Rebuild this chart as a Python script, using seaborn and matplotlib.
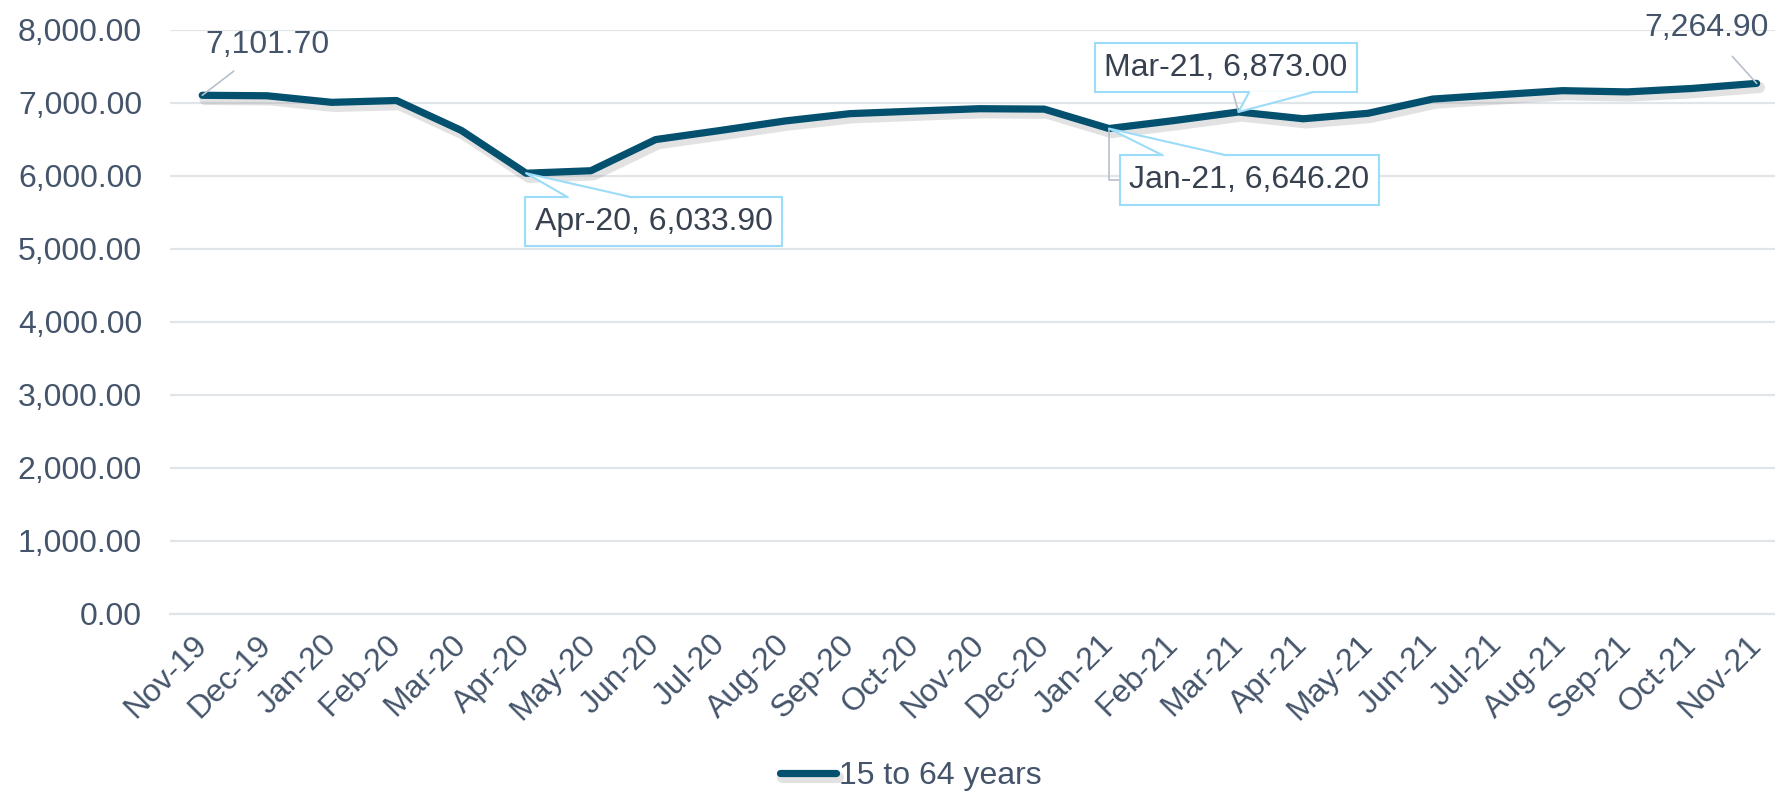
import matplotlib
matplotlib.use("Agg")
import matplotlib.pyplot as plt
import matplotlib.patheffects as pe
from matplotlib.patches import Polygon
from matplotlib.lines import Line2D
import numpy as np
import pandas as pd
import seaborn as sns

months = ["Nov-19", "Dec-19", "Jan-20", "Feb-20", "Mar-20", "Apr-20", "May-20",
          "Jun-20", "Jul-20", "Aug-20", "Sep-20", "Oct-20", "Nov-20", "Dec-20",
          "Jan-21", "Feb-21", "Mar-21", "Apr-21", "May-21", "Jun-21", "Jul-21",
          "Aug-21", "Sep-21", "Oct-21", "Nov-21"]
employed = [7101.7, 7095, 7005, 7030, 6620, 6033.9, 6068,
            6495, 6620, 6750, 6850, 6885, 6918, 6912,
            6646.2, 6755, 6873.0, 6780, 6855, 7050, 7108,
            7165, 7148, 7195, 7264.9]
series_name = "15 to 64 years"

LINE = "#03506F"
TEXT = "#44546A"
DARK = "#38414F"
GRID = "#E1E4E9"
CALLOUT = "#9BDCF8"
LEADER = "#B7C0CC"
FS = 23


def start():
    df = pd.DataFrame({"pos": np.arange(len(months)), "value": employed})

    sns.set_style("white")
    plt.rcParams["font.family"] = ["Liberation Sans", "DejaVu Sans"]

    fig = plt.figure(figsize=(17.75, 7.92), dpi=100)
    ax = fig.add_axes([0.0957, 0.2251, 0.9122, 0.7374])

    sns.lineplot(
        data=df, x="pos", y="value", ax=ax, color=LINE, linewidth=5.2,
        label=series_name, solid_capstyle="round", solid_joinstyle="round",
        legend=False, zorder=3,
    )
    ax.lines[0].set_path_effects([
        pe.SimpleLineShadow(offset=(2, -3), shadow_color="#7f7f7f", alpha=0.22, linewidth=8),
        pe.Normal(),
    ])

    ax.set_xlim(-0.5, len(months) - 0.5)
    ax.set_ylim(0, 8000)
    ax.set_yticks(np.arange(0, 8001, 1000))
    ax.set_yticklabels([f"{v:,.2f}" for v in np.arange(0, 8001, 1000)])
    ax.set_xticks(df["pos"])
    ax.set_xticklabels(months, rotation=45, ha="right", va="center", rotation_mode="anchor")
    ax.set_xticks(np.arange(-0.5, len(months), 1), minor=True)

    ax.grid(axis="y", color=GRID, linewidth=1.6)
    ax.grid(axis="x", visible=False)
    ax.set_axisbelow(True)
    for s in ["top", "right", "left"]:
        ax.spines[s].set_visible(False)
    ax.spines["bottom"].set_color(GRID)
    ax.spines["bottom"].set_linewidth(1.6)

    ax.tick_params(axis="y", length=0, pad=20, labelsize=FS, labelcolor=TEXT)
    ax.tick_params(axis="x", which="major", length=0, pad=19, labelsize=FS, labelcolor=TEXT)
    ax.tick_params(axis="x", which="minor", length=7, width=1.6, color=GRID)
    ax.set_xlabel("")
    ax.set_ylabel("")

    # plain labels at the first and last points
    ax.annotate(f"{employed[0]:,.2f}", xy=(0, employed[0]), xytext=(47, 36),
                textcoords="offset points", ha="center", va="center",
                fontsize=FS, color=TEXT,
                arrowprops=dict(arrowstyle="-", color=LEADER, lw=1.2, shrinkA=9, shrinkB=0))
    last = len(months) - 1
    ax.annotate(f"{employed[last]:,.2f}", xy=(last, employed[last]), xytext=(-36, 40),
                textcoords="offset points", ha="center", va="center",
                fontsize=FS, color=TEXT,
                arrowprops=dict(arrowstyle="-", color=LEADER, lw=1.2, shrinkA=10, shrinkB=0))

    # callout boxes: (month, text offset in points, pointer base position along box edge, edge)
    callouts = [("Apr-20", (92, -35), 0.29, "top"),
                ("Jan-21", (101, -37), 0.29, "top"),
                ("Mar-21", (-9, 32), 0.71, "bottom")]
    boxes = []
    for name, off, frac, edge in callouts:
        i = months.index(name)
        v = employed[i]
        ax.annotate("", xy=(i, v), xytext=off, textcoords="offset points",
                    arrowprops=dict(arrowstyle="-", color=LEADER, lw=1.2, shrinkA=0, shrinkB=0,
                                    connectionstyle="angle,angleA=0,angleB=90,rad=0"
                                    if name == "Jan-21" else "arc3"))
        t = ax.annotate(f"{name}, {v:,.2f}", xy=(i, v), xytext=off, textcoords="offset points",
                        ha="center", va="center", fontsize=FS, color=DARK, zorder=5,
                        bbox=dict(boxstyle="square,pad=0.3", fc="white", ec=CALLOUT, lw=1.5))
        boxes.append((t, i, v, frac, edge))

    # callout pointers, built from the drawn box extents
    fig.canvas.draw()
    half = 32 * fig.dpi / 100
    for t, i, v, frac, edge in boxes:
        bb = t.get_bbox_patch().get_window_extent()
        tip = ax.transData.transform((i, v))
        bx = bb.x0 + frac * bb.width
        by = bb.y1 - 1 if edge == "top" else bb.y0 + 1
        ey = bb.y1 if edge == "top" else bb.y0
        fill = Polygon([(bx - half, by), tuple(tip), (bx + half, by)], closed=True,
                       transform=None, fc="white", ec="none", zorder=6)
        fig.add_artist(fill)
        fig.add_artist(Line2D([bx - half, tip[0], bx + half], [ey, tip[1], ey],
                              transform=None, color=CALLOUT, lw=1.5, zorder=7))

    handles, labels = ax.get_legend_handles_labels()
    leg = fig.legend(handles, labels, loc="center", bbox_to_anchor=(0.513, 0.02),
                     frameon=False, fontsize=FS, handlelength=1.75, handletextpad=0.1)
    for t in leg.get_texts():
        t.set_color(TEXT)

    fig.savefig("out.png", dpi=100)
    plt.close(fig)


if __name__ == "__main__":
    start()
